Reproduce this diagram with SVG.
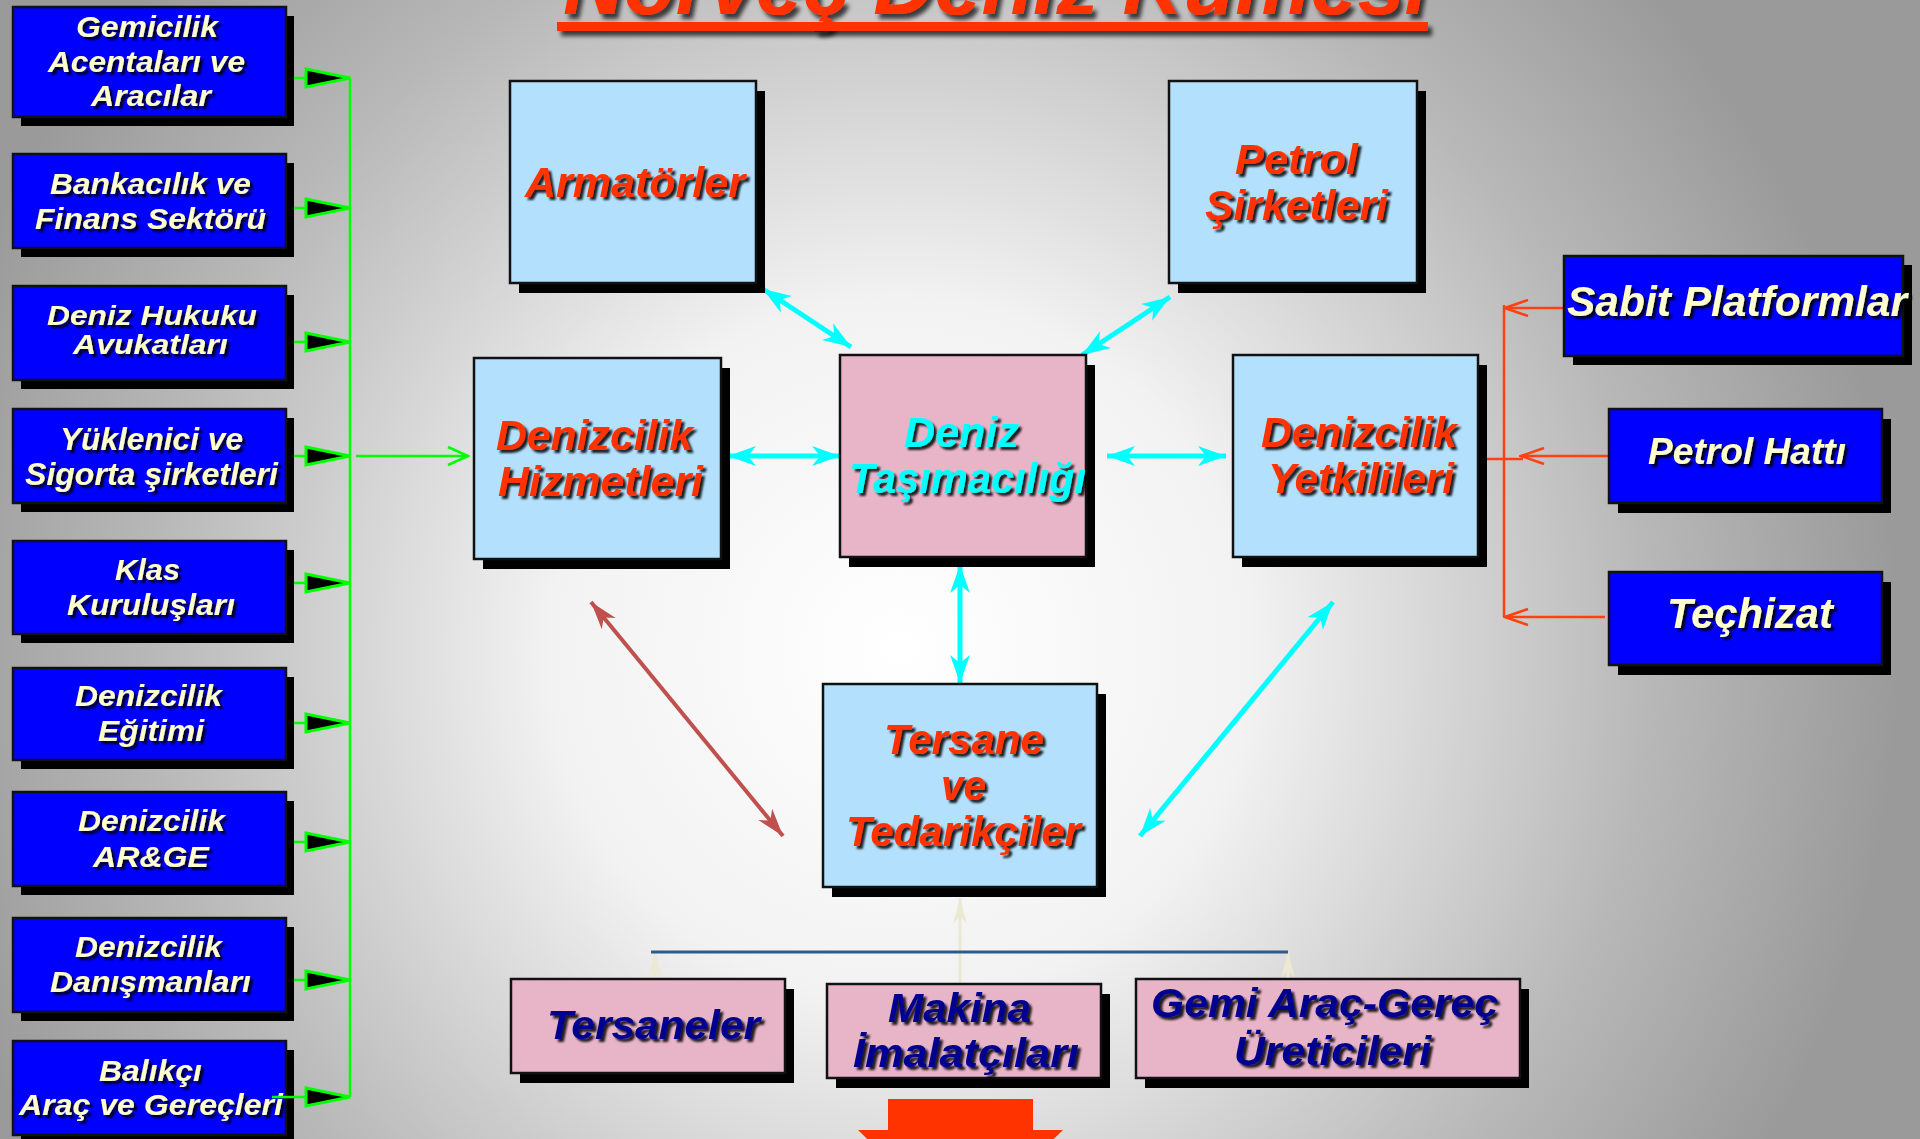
<svg xmlns="http://www.w3.org/2000/svg" width="1920" height="1139" viewBox="0 0 1920 1139">
<defs>
<radialGradient id="bg" gradientUnits="userSpaceOnUse" cx="900" cy="650" r="1000">
<stop offset="0" stop-color="#FFFFFF"/>
<stop offset="0.35" stop-color="#F2F2F2"/>
<stop offset="0.75" stop-color="#B8B8B8"/>
<stop offset="1" stop-color="#9A9A9A"/>
</radialGradient>
<filter id="ts" x="-10%" y="-20%" width="130%" height="160%">
<feDropShadow dx="3" dy="3" stdDeviation="0.8" flood-color="#000" flood-opacity="0.85"/>
</filter>
<filter id="us" x="-5%" y="-50%" width="110%" height="300%">
<feDropShadow dx="4" dy="5" stdDeviation="2" flood-color="#000" flood-opacity="0.7"/>
</filter>
<marker id="gtri" viewBox="0 0 48 22" refX="46" refY="11" markerWidth="48" markerHeight="22" markerUnits="userSpaceOnUse" orient="auto">
<path d="M2,2 L46,11 L2,20 Z" fill="#000" stroke="#00FF00" stroke-width="3"/>
</marker>
<marker id="garr" viewBox="-24 -11 26 22" refX="0" refY="0" markerWidth="26" markerHeight="22" markerUnits="userSpaceOnUse" orient="auto">
<path d="M-20,-9 L0,0 L-20,9" fill="none" stroke="#00FF00" stroke-width="2.5"/>
</marker>
<marker id="rarr" viewBox="-26 -11 28 22" refX="0" refY="0" markerWidth="28" markerHeight="22" markerUnits="userSpaceOnUse" orient="auto">
<path d="M-23,-8 L0,0 L-23,8" fill="none" stroke="#FF4010" stroke-width="2.5"/>
</marker>
<marker id="carr" viewBox="-30 -12 32 24" refX="0" refY="0" markerWidth="32" markerHeight="24" markerUnits="userSpaceOnUse" orient="auto-start-reverse">
<path d="M0,0 L-28,-10 L-20,0 L-28,10 Z" fill="#00FFFF"/>
</marker>
<marker id="barr" viewBox="-30 -12 32 24" refX="0" refY="0" markerWidth="32" markerHeight="24" markerUnits="userSpaceOnUse" orient="auto-start-reverse">
<path d="M0,0 L-28,-9 L-20,0 L-28,9 Z" fill="#C0504D"/>
</marker>
<marker id="farr" viewBox="-30 -12 32 24" refX="0" refY="0" markerWidth="32" markerHeight="24" markerUnits="userSpaceOnUse" orient="auto">
<path d="M0,0 L-26,-7 L-18,0 L-26,7 Z" fill="#ECE9D3"/>
</marker>
</defs>
<style>
text{font-family:"Liberation Sans",Arial,sans-serif;font-weight:bold;font-style:italic;}
.box{stroke:#111;stroke-width:2.5;}
.shd{fill:#000;}
.blue{fill:#0000FF;}
.lb{fill:#B3E1FD;}
.pk{fill:#E8B4C8;}
.cr{fill:#FFFFCC;filter:url(#ts);}
.rd{fill:#FF3300;filter:url(#ts);font-size:43px;}
.cy{fill:#00FFFF;filter:url(#ts);font-size:43px;}
.nv{fill:#000090;filter:url(#ts);font-size:40px;}
.gl{stroke:#00FF00;stroke-width:2.5;fill:none;}
.rl{stroke:#FF4010;stroke-width:2.5;fill:none;}
.cl{stroke:#00FFFF;stroke-width:5;fill:none;}
.bl{stroke:#C0504D;stroke-width:4;fill:none;}
.fl{stroke:#ECE9D3;stroke-width:3;fill:none;}
</style>
<rect x="0" y="0" width="1920" height="1139" fill="url(#bg)"/>

<g id="title">
<text x="563" y="14" font-size="85" textLength="865" lengthAdjust="spacingAndGlyphs" fill="#FF3300" filter="url(#us)">Norveç Deniz Kümesi</text>
<rect x="557" y="22" width="871" height="9" fill="#FF3300" filter="url(#us)"/>
</g>

<g id="connectors">
<line class="gl" x1="350" y1="78" x2="350" y2="1097"/>
<line class="gl" x1="286" y1="78" x2="350" y2="78" marker-end="url(#gtri)"/>
<line class="gl" x1="286" y1="208" x2="350" y2="208" marker-end="url(#gtri)"/>
<line class="gl" x1="286" y1="342" x2="350" y2="342" marker-end="url(#gtri)"/>
<line class="gl" x1="286" y1="456" x2="350" y2="456" marker-end="url(#gtri)"/>
<line class="gl" x1="286" y1="583" x2="350" y2="583" marker-end="url(#gtri)"/>
<line class="gl" x1="286" y1="723" x2="350" y2="723" marker-end="url(#gtri)"/>
<line class="gl" x1="286" y1="842" x2="350" y2="842" marker-end="url(#gtri)"/>
<line class="gl" x1="286" y1="980" x2="350" y2="980" marker-end="url(#gtri)"/>
<line class="gl" x1="356" y1="456" x2="468" y2="456" marker-end="url(#garr)"/>

<line class="rl" x1="1504" y1="305" x2="1504" y2="617"/>
<line class="rl" x1="1564" y1="308" x2="1505" y2="308" marker-end="url(#rarr)"/>
<line class="rl" x1="1615" y1="456" x2="1521" y2="456" marker-end="url(#rarr)"/>
<line class="rl" x1="1605" y1="617" x2="1505" y2="617" marker-end="url(#rarr)"/>
<line class="rl" x1="1486" y1="459" x2="1523" y2="459"/>

<line class="cl" x1="763" y1="289" x2="851" y2="347" marker-start="url(#carr)" marker-end="url(#carr)"/>
<line class="cl" x1="1082" y1="355" x2="1170" y2="297" marker-start="url(#carr)" marker-end="url(#carr)"/>
<line class="cl" x1="728" y1="456" x2="840" y2="456" marker-start="url(#carr)" marker-end="url(#carr)"/>
<line class="cl" x1="1107" y1="456" x2="1226" y2="456" marker-start="url(#carr)" marker-end="url(#carr)"/>
<line class="cl" x1="960" y1="565" x2="960" y2="683" marker-start="url(#carr)" marker-end="url(#carr)"/>
<line class="cl" x1="1140" y1="836" x2="1333" y2="602" marker-start="url(#carr)" marker-end="url(#carr)"/>
<line class="bl" x1="591" y1="602" x2="783" y2="836" marker-start="url(#barr)" marker-end="url(#barr)"/>

<line class="fl" x1="655" y1="979" x2="655" y2="952" marker-end="url(#farr)"/>
<line class="fl" x1="1288" y1="979" x2="1288" y2="952" marker-end="url(#farr)"/>
<line class="fl" x1="960" y1="984" x2="960" y2="898" marker-end="url(#farr)"/>
<line x1="651" y1="952" x2="1288" y2="952" stroke="#2E5A8C" stroke-width="3"/>
</g>

<g id="n-gemicilik">
<rect class="shd" x="21" y="16" width="273" height="110"/>
<rect class="box blue" x="13" y="7" width="273" height="110"/>
<text class="cr" font-size="30" x="76" y="37" textLength="142" lengthAdjust="spacingAndGlyphs">Gemicilik</text>
<text class="cr" font-size="30" x="48" y="72" textLength="197" lengthAdjust="spacingAndGlyphs">Acentaları ve</text>
<text class="cr" font-size="30" x="91" y="106" textLength="120" lengthAdjust="spacingAndGlyphs">Aracılar</text>
</g>
<g id="n-bankacilik">
<rect class="shd" x="21" y="163" width="273" height="94"/>
<rect class="box blue" x="13" y="154" width="273" height="94"/>
<text class="cr" font-size="30" x="50" y="194" textLength="201" lengthAdjust="spacingAndGlyphs">Bankacılık ve</text>
<text class="cr" font-size="30" x="35" y="229" textLength="231" lengthAdjust="spacingAndGlyphs">Finans Sektörü</text>
</g>
<g id="n-hukuk">
<rect class="shd" x="21" y="295" width="273" height="94"/>
<rect class="box blue" x="13" y="286" width="273" height="94"/>
<text class="cr" font-size="28" x="47" y="325" textLength="210" lengthAdjust="spacingAndGlyphs">Deniz Hukuku</text>
<text class="cr" font-size="28" x="73" y="354" textLength="155" lengthAdjust="spacingAndGlyphs">Avukatları</text>
</g>
<g id="n-yuklenici">
<rect class="shd" x="21" y="418" width="273" height="94"/>
<rect class="box blue" x="13" y="409" width="273" height="94"/>
<text class="cr" font-size="31" x="60" y="450" textLength="183" lengthAdjust="spacingAndGlyphs">Yüklenici ve</text>
<text class="cr" font-size="31" x="25" y="485" textLength="253" lengthAdjust="spacingAndGlyphs">Sigorta şirketleri</text>
</g>
<g id="n-klas">
<rect class="shd" x="21" y="550" width="273" height="93"/>
<rect class="box blue" x="13" y="541" width="273" height="93"/>
<text class="cr" font-size="30" x="115" y="580" textLength="65" lengthAdjust="spacingAndGlyphs">Klas</text>
<text class="cr" font-size="30" x="67" y="615" textLength="168" lengthAdjust="spacingAndGlyphs">Kuruluşları</text>
</g>
<g id="n-egitim">
<rect class="shd" x="21" y="677" width="273" height="92"/>
<rect class="box blue" x="13" y="668" width="273" height="92"/>
<text class="cr" font-size="30" x="75" y="706" textLength="147" lengthAdjust="spacingAndGlyphs">Denizcilik</text>
<text class="cr" font-size="30" x="98" y="741" textLength="106" lengthAdjust="spacingAndGlyphs">Eğitimi</text>
</g>
<g id="n-arge">
<rect class="shd" x="21" y="801" width="273" height="94"/>
<rect class="box blue" x="13" y="792" width="273" height="94"/>
<text class="cr" font-size="30" x="78" y="831" textLength="147" lengthAdjust="spacingAndGlyphs">Denizcilik</text>
<text class="cr" font-size="30" x="93" y="867" textLength="116" lengthAdjust="spacingAndGlyphs">AR&amp;GE</text>
</g>
<g id="n-danisman">
<rect class="shd" x="21" y="927" width="273" height="94"/>
<rect class="box blue" x="13" y="918" width="273" height="94"/>
<text class="cr" font-size="30" x="75" y="957" textLength="147" lengthAdjust="spacingAndGlyphs">Denizcilik</text>
<text class="cr" font-size="30" x="50" y="992" textLength="201" lengthAdjust="spacingAndGlyphs">Danışmanları</text>
</g>
<g id="n-balikci">
<rect class="shd" x="21" y="1050" width="273" height="94"/>
<rect class="box blue" x="13" y="1041" width="273" height="94"/>
<text class="cr" font-size="30" x="99" y="1081" textLength="103" lengthAdjust="spacingAndGlyphs">Balıkçı</text>
<text class="cr" font-size="30" x="19" y="1115" textLength="264" lengthAdjust="spacingAndGlyphs">Araç ve Gereçleri</text>
<line class="gl" x1="272" y1="1097" x2="350" y2="1097" marker-end="url(#gtri)"/>
</g>

<g id="n-armatorler">
<rect class="shd" x="519" y="91" width="246" height="202"/>
<rect class="box lb" x="510" y="81" width="246" height="202"/>
<text class="rd" x="525" y="197" textLength="220" lengthAdjust="spacingAndGlyphs">Armatörler</text>
</g>
<g id="n-petrol">
<rect class="shd" x="1178" y="91" width="248" height="202"/>
<rect class="box lb" x="1169" y="81" width="248" height="202"/>
<text class="rd" x="1235" y="174" textLength="123" lengthAdjust="spacingAndGlyphs">Petrol</text>
<text class="rd" x="1205" y="220" textLength="183" lengthAdjust="spacingAndGlyphs">Şirketleri</text>
</g>
<g id="n-hizmetleri">
<rect class="shd" x="483" y="368" width="247" height="201"/>
<rect class="box lb" x="474" y="358" width="247" height="201"/>
<text class="rd" x="496" y="450" textLength="197" lengthAdjust="spacingAndGlyphs">Denizcilik</text>
<text class="rd" x="498" y="496" textLength="205" lengthAdjust="spacingAndGlyphs">Hizmetleri</text>
</g>
<g id="n-tasimacilik">
<rect class="shd" x="849" y="365" width="246" height="202"/>
<rect class="box pk" x="840" y="355" width="246" height="202"/>
<text class="cy" x="904" y="447" textLength="115" lengthAdjust="spacingAndGlyphs">Deniz</text>
<text class="cy" x="849" y="493" textLength="237" lengthAdjust="spacingAndGlyphs">Taşımacılığı</text>
</g>
<g id="n-yetkililer">
<rect class="shd" x="1242" y="365" width="245" height="202"/>
<rect class="box lb" x="1233" y="355" width="245" height="202"/>
<text class="rd" x="1261" y="447" textLength="196" lengthAdjust="spacingAndGlyphs">Denizcilik</text>
<text class="rd" x="1268" y="493" textLength="186" lengthAdjust="spacingAndGlyphs">Yetkilileri</text>
</g>
<g id="n-tersane">
<rect class="shd" x="832" y="694" width="274" height="203"/>
<rect class="box lb" x="823" y="684" width="274" height="203"/>
<text class="rd" x="884" y="754" textLength="160" lengthAdjust="spacingAndGlyphs">Tersane</text>
<text class="rd" x="941" y="800" textLength="45" lengthAdjust="spacingAndGlyphs">ve</text>
<text class="rd" x="846" y="846" textLength="235" lengthAdjust="spacingAndGlyphs">Tedarikçiler</text>
</g>

<g id="n-tersaneler">
<rect class="shd" x="520" y="989" width="274" height="94"/>
<rect class="box pk" x="511" y="979" width="274" height="94"/>
<text class="nv" x="547" y="1039" textLength="213" lengthAdjust="spacingAndGlyphs">Tersaneler</text>
</g>
<g id="n-makina">
<rect class="shd" x="836" y="994" width="274" height="94"/>
<rect class="box pk" x="827" y="984" width="274" height="94"/>
<text class="nv" x="888" y="1022" textLength="143" lengthAdjust="spacingAndGlyphs">Makina</text>
<text class="nv" x="853" y="1067" textLength="226" lengthAdjust="spacingAndGlyphs">İmalatçıları</text>
</g>
<g id="n-gemiarac">
<rect class="shd" x="1145" y="989" width="384" height="99"/>
<rect class="box pk" x="1136" y="979" width="384" height="99"/>
<text class="nv" x="1151" y="1017" textLength="347" lengthAdjust="spacingAndGlyphs">Gemi Araç-Gereç</text>
<text class="nv" x="1234" y="1065" textLength="197" lengthAdjust="spacingAndGlyphs">Üreticileri</text>
</g>

<g id="n-sabit">
<rect class="shd" x="1573" y="265" width="339" height="100"/>
<rect class="box blue" x="1564" y="256" width="339" height="100"/>
<text class="cr" font-size="43" x="1567" y="316" textLength="340" lengthAdjust="spacingAndGlyphs">Sabit Platformlar</text>
</g>
<g id="n-petrolhatti">
<rect class="shd" x="1618" y="419" width="273" height="94"/>
<rect class="box blue" x="1609" y="409" width="273" height="94"/>
<text class="cr" font-size="37" x="1648" y="464" textLength="198" lengthAdjust="spacingAndGlyphs">Petrol Hattı</text>
</g>
<g id="n-techizat">
<rect class="shd" x="1618" y="582" width="273" height="93"/>
<rect class="box blue" x="1609" y="572" width="273" height="93"/>
<text class="cr" font-size="42" x="1667" y="628" textLength="166" lengthAdjust="spacingAndGlyphs">Teçhizat</text>
</g>

<g id="down-arrow">
<polygon points="888,1099 1033,1099 1033,1130 1063,1130 960,1230 858,1130 888,1130" fill="#FF3300"/>
</g>
</svg>
